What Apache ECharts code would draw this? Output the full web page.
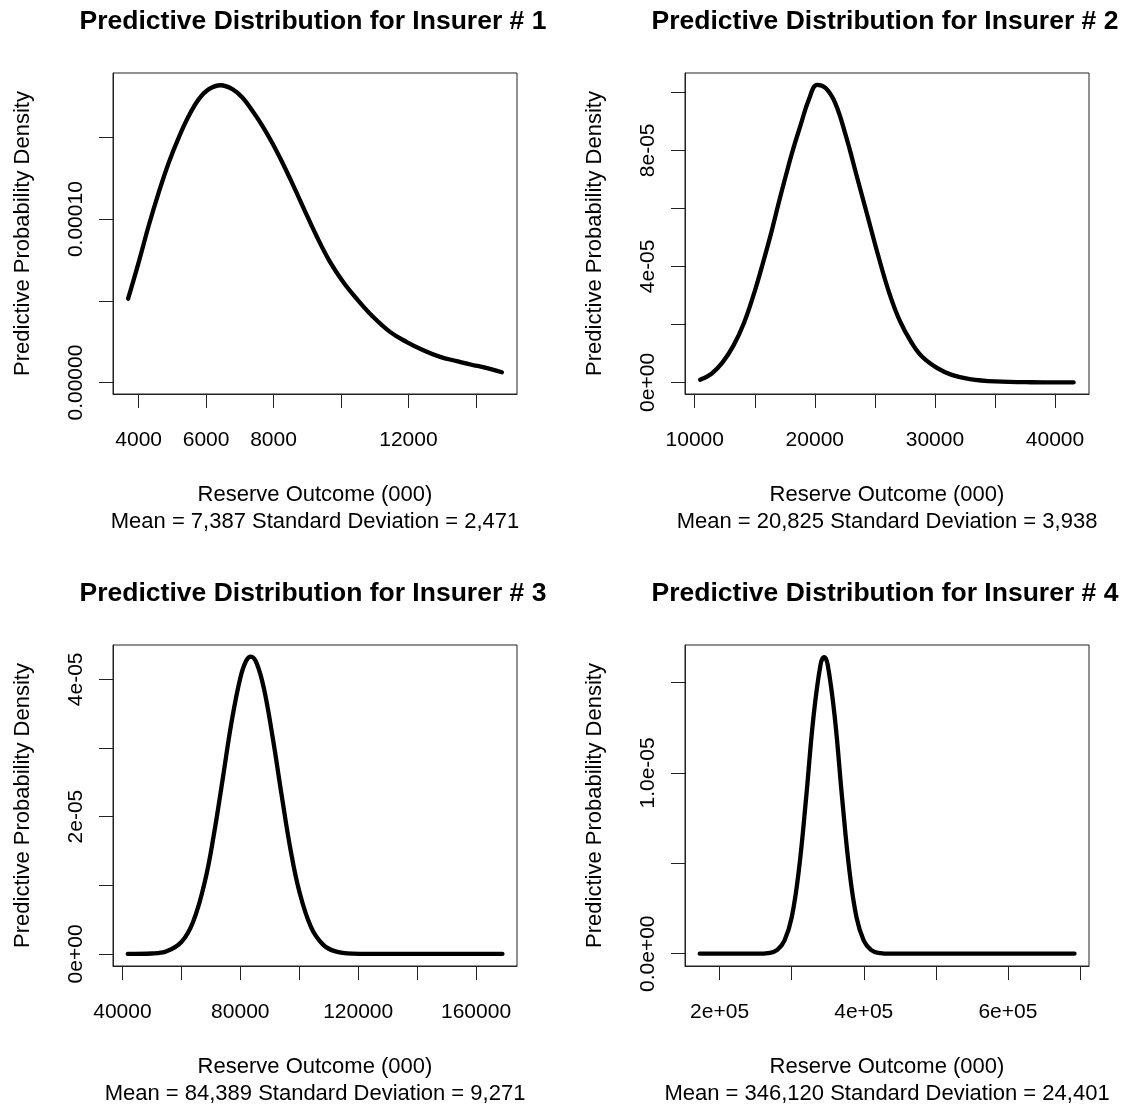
<!DOCTYPE html>
<html><head><meta charset="utf-8">
<script src="https://cdn.jsdelivr.net/npm/echarts@6/dist/echarts.min.js"></script>
<style>html,body{margin:0;padding:0;background:#fff}#c{width:1128px;height:1108px}</style>
</head><body><div id="c"></div>
<script>
// ---------- text ----------
const titles = ['Predictive Distribution for Insurer # 1','Predictive Distribution for Insurer # 2','Predictive Distribution for Insurer # 3','Predictive Distribution for Insurer # 4'];
const xAxisName = 'Reserve Outcome (000)';
const summaries = ['Mean = 7,387 Standard Deviation = 2,471','Mean = 20,825 Standard Deviation = 3,938','Mean = 84,389 Standard Deviation = 9,271','Mean = 346,120 Standard Deviation = 24,401'];
const yAxisName = 'Predictive Probability Density';

// ---------- panel 1 ----------
const p1X = [3688,4003,4300,4597,4895,5192,5489,5786,6083,6431,6779,7076,7373,7670,7967,8265,8481,8877,9275,9670,10066,10464,10957,11453,11950,12443,12939,13435,13929,14178,14773];
const p1Y = [5.13e-5,7.37e-5,9.61e-5,1.164e-4,1.347e-4,1.500e-4,1.632e-4,1.734e-4,1.795e-4,1.819e-4,1.795e-4,1.744e-4,1.663e-4,1.571e-4,1.464e-4,1.345e-4,1.252e-4,1.074e-4,8.97e-5,7.40e-5,6.15e-5,5.13e-5,4.01e-5,3.10e-5,2.48e-5,1.98e-5,1.57e-5,1.31e-5,1.06e-5,9.6e-6,6.3e-6];
const p1XTicks = [4000,6000,8000,10000,12000,14000];
const p1XLabelValues = [4000,6000,8000,12000];
const p1XLabels = ['4000','6000','8000','12000'];
const p1YTicks = [0,0.00005,0.0001,0.00015];
const p1YLabelValues = [0,0.0001];
const p1YLabels = ['0.00000','0.00010'];

// ---------- panel 2 ----------
const p2X = [10450,11400,12300,13200,14100,15000,15600,16300,17000,17600,18200,18800,19500,20200,20900,21700,22600,23500,24400,25300,26200,27100,28000,28900,30200,31400,32900,35000,38000,41550];
const p2Y = [0.09e-5,0.30e-5,0.68e-5,1.25e-5,2.05e-5,3.15e-5,4.0e-5,5.05e-5,6.2e-5,7.15e-5,8.05e-5,8.85e-5,9.75e-5,10.26e-5,10.15e-5,9.63e-5,8.48e-5,7.10e-5,5.72e-5,4.34e-5,3.08e-5,2.10e-5,1.41e-5,0.90e-5,0.49e-5,0.26e-5,0.115e-5,0.034e-5,0.005e-5,0];
const p2XTicks = [10000,15000,20000,25000,30000,35000,40000];
const p2XLabelValues = [10000,20000,30000,40000];
const p2XLabels = ['10000','20000','30000','40000'];
const p2YTicks = [0,2e-5,4e-5,6e-5,8e-5,1e-4];
const p2YLabelValues = [0,4e-5,8e-5];
const p2YLabels = ['0e+00','4e-05','8e-05'];

// ---------- panel 3 ----------
const p3X = [41800,50000,55000,60000,64000,68000,71000,74000,77000,80000,82000,83600,85500,88000,91000,94000,97000,100000,104000,108000,112000,118000,130000,150000,168970];
const p3Y = [0,0.006e-5,0.038e-5,0.173e-5,0.47e-5,1.06e-5,1.73e-5,2.54e-5,3.37e-5,4.02e-5,4.27e-5,4.33e-5,4.24e-5,3.87e-5,3.15e-5,2.32e-5,1.53e-5,0.915e-5,0.39e-5,0.139e-5,0.041e-5,0.005e-5,0,0,0];
const p3XTicks = [40000,60000,80000,100000,120000,140000,160000];
const p3XLabelValues = [40000,80000,120000,160000];
const p3XLabels = ['40000','80000','120000','160000'];
const p3YTicks = [0,1e-5,2e-5,3e-5,4e-5];
const p3YLabelValues = [0,2e-5,4e-5];
const p3YLabels = ['0e+00','2e-05','4e-05'];

// ---------- panel 4 ----------
const p4X = [172400,250000,270000,280000,290000,300000,310000,320000,330000,340000,345000,350000,360000,370000,380000,390000,400000,410000,420000,440000,500000,600000,692400];
const p4Y = [0,0,0.05e-6,0.21e-6,0.72e-6,2.0e-6,4.63e-6,8.6e-6,13.0e-6,15.98e-6,16.4e-6,15.98e-6,13.0e-6,8.6e-6,4.63e-6,2.0e-6,0.72e-6,0.21e-6,0.05e-6,0,0,0,0];
const p4XTicks = [200000,300000,400000,500000,600000,700000];
const p4XLabelValues = [200000,400000,600000];
const p4XLabels = ['2e+05','4e+05','6e+05'];
const p4YTicks = [0,5e-6,1e-5,1.5e-5];
const p4YLabelValues = [0,1e-5];
const p4YLabels = ['0.0e+00','1.0e-05'];

// ---------- assembly ----------
const panels = [
  {x:p1X,y:p1Y,xt:p1XTicks,xlv:p1XLabelValues,xl:p1XLabels,yt:p1YTicks,ylv:p1YLabelValues,yl:p1YLabels},
  {x:p2X,y:p2Y,xt:p2XTicks,xlv:p2XLabelValues,xl:p2XLabels,yt:p2YTicks,ylv:p2YLabelValues,yl:p2YLabels},
  {x:p3X,y:p3Y,xt:p3XTicks,xlv:p3XLabelValues,xl:p3XLabels,yt:p3YTicks,ylv:p3YLabelValues,yl:p3YLabels},
  {x:p4X,y:p4Y,xt:p4XTicks,xlv:p4XLabelValues,xl:p4XLabels,yt:p4YTicks,ylv:p4YLabelValues,yl:p4YLabels}
];
// layout / axis extents (R-style 4% padding)
const layout = [
  {left:113, top:73, width:404, height:321, xmin:3240, xmax:15220, ymin:-7.0e-6, ymax:1.894e-4},
  {left:685, top:73, width:404, height:321, xmin:9190, xmax:42830, ymin:-4.0e-6, ymax:1.0667e-4},
  {left:113, top:645, width:404, height:322, xmin:36800, xmax:173900, ymin:-1.76e-6, ymax:4.5e-5},
  {left:685, top:645, width:404, height:322, xmin:152000, xmax:712500, ymin:-6.8e-7, ymax:1.7074e-5}
];
const FONT = "'Liberation Sans', Arial, sans-serif";
const lab = (vals, texts) => v => {
  const i = vals.findIndex(t => Math.abs(t - v) <= Math.abs(t) * 1e-9 + 1e-15);
  return i >= 0 ? texts[i] : '';
};
const grid=[], xAxis=[], yAxis=[], series=[], title=[];
panels.forEach((p, i) => {
  const L = layout[i];
  grid.push({left:L.left, top:L.top, width:L.width, height:L.height, show:true, borderColor:'#222', borderWidth:1, backgroundColor:'transparent'});
  title.push({text:titles[i], left:L.left + L.width/2 - 2, top:L.top - 65, textAlign:'center', padding:0,
    textStyle:{fontFamily:FONT, fontSize:26.5, fontWeight:'bold', color:'#000'}});
  xAxis.push({type:'value', gridIndex:i, min:L.xmin, max:L.xmax,
    axisLine:{show:true, onZero:false, lineStyle:{color:'#222', width:1}},
    axisTick:{show:true, inside:false, length:14, customValues:p.xt, lineStyle:{color:'#222', width:1}},
    axisLabel:{show:true, customValues:p.xlv, formatter:lab(p.xlv, p.xl), margin:36, fontFamily:FONT, fontSize:21, color:'#000'},
    splitLine:{show:false},
    name: xAxisName + '\n' + summaries[i], nameLocation:'middle', nameGap:87,
    nameTextStyle:{fontFamily:FONT, fontSize:22, lineHeight:27, color:'#000'}
  });
  yAxis.push({type:'value', gridIndex:i, min:L.ymin, max:L.ymax,
    axisLine:{show:true, onZero:false, lineStyle:{color:'#222', width:1}},
    axisTick:{show:true, inside:false, length:14, customValues:p.yt, lineStyle:{color:'#222', width:1}},
    axisLabel:{show:true, customValues:p.ylv, formatter:lab(p.ylv, p.yl), rotate:90, margin:26, fontFamily:FONT, fontSize:21, color:'#000'},
    splitLine:{show:false},
    name: yAxisName, nameLocation:'middle', nameGap:79,
    nameTextStyle:{fontFamily:FONT, fontSize:22, color:'#000'}
  });
  series.push({type:'line', xAxisIndex:i, yAxisIndex:i, data:p.x.map((v, k) => [v, p.y[k]]),
    showSymbol:false, smooth:0.4, clip:true, silent:true,
    lineStyle:{color:'#000', width:4.3, cap:'round', join:'round'}});
});
const chart = echarts.init(document.getElementById('c'), null, {renderer:'canvas'});
chart.setOption({backgroundColor:'#fff', animation:false, title, grid, xAxis, yAxis, series});
</script></body></html>
